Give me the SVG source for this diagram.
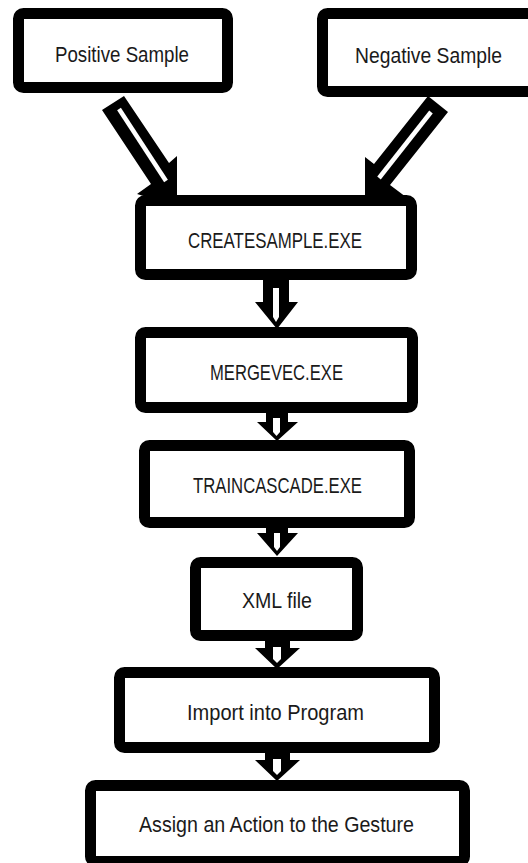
<svg xmlns="http://www.w3.org/2000/svg" width="528" height="863" viewBox="0 0 528 863">
<style>
.box{fill:#fff;stroke:#000;stroke-width:11;}
.lbl{font-family:"Liberation Sans",Arial,sans-serif;font-size:22px;fill:#1a1a1a;text-anchor:middle;}
.ah{fill:#000;}
.slit{fill:#fff;}
</style>
<rect width="528" height="863" fill="#fff"/>
<g id="connectors">
  <!-- Positive -> CREATESAMPLE -->
  <polygon class="ah" points="102,110 124,96 169,163 177,156 177,206 137,194 151,184"/>
  <line x1="119" y1="109" x2="166" y2="181" stroke="#fff" stroke-width="4.5"/>
  <!-- Negative -> CREATESAMPLE -->
  <polygon class="ah" points="448,112 428,96 374,164 365,157 365,206 406,197 390,185"/>
  <line x1="431" y1="112" x2="379" y2="178" stroke="#fff" stroke-width="4.5"/>
  <!-- CREATESAMPLE -> MERGEVEC -->
  <polygon class="ah" points="263,275 289,275 289,302 298,302 277,329 255,302 263,302"/>
  <polygon class="slit" points="273,288 279,288 279,317 276,322 273,317"/>
  <!-- MERGEVEC -> TRAINCASCADE -->
  <polygon class="ah" points="266,408 288,408 288,422 298,422 277,441 257,422 266,422"/>
  <polygon class="slit" points="273,418 280,418 280,432 276.5,436 273,432"/>
  <!-- TRAINCASCADE -> XML file -->
  <polygon class="ah" points="266,523 288,523 288,533 298,533 277,556 257,533 266,533"/>
  <polygon class="slit" points="274,533 280,533 280,547 277,551 274,547"/>
  <!-- XML file -> Import -->
  <polygon class="ah" points="265,636 290,636 290,648 300,648 277,669 255,648 265,648"/>
  <polygon class="slit" points="273,647 281,647 281,659 277,663 273,659"/>
  <!-- Import -> Assign -->
  <polygon class="ah" points="265,748 290,748 290,760 300,760 277,781 255,760 265,760"/>
  <polygon class="slit" points="273,759 281,759 281,771 277,775 273,771"/>
</g>
<g id="positive">
  <rect class="box" x="18.5" y="13.5" width="209" height="74" rx="5"/>
  <text class="lbl" x="122" y="62" textLength="134" lengthAdjust="spacingAndGlyphs">Positive Sample</text>
</g>
<g id="negative">
  <rect class="box" x="322.5" y="13.5" width="220" height="78" rx="5"/>
  <text class="lbl" x="428.5" y="63" textLength="147" lengthAdjust="spacingAndGlyphs">Negative Sample</text>
</g>
<g id="createsample">
  <rect class="box" x="140.5" y="200.5" width="271" height="74" rx="5"/>
  <text class="lbl" x="275" y="248" textLength="174" lengthAdjust="spacingAndGlyphs">CREATESAMPLE.EXE</text>
</g>
<g id="mergevec">
  <rect class="box" x="140.5" y="332.5" width="272" height="75" rx="5"/>
  <text class="lbl" x="276.5" y="380" textLength="133" lengthAdjust="spacingAndGlyphs">MERGEVEC.EXE</text>
</g>
<g id="traincascade">
  <rect class="box" x="144.5" y="445.5" width="265" height="77" rx="5"/>
  <text class="lbl" x="277.5" y="493" textLength="169" lengthAdjust="spacingAndGlyphs">TRAINCASCADE.EXE</text>
</g>
<g id="xmlfile">
  <rect class="box" x="195.5" y="562.5" width="162" height="73" rx="5"/>
  <text class="lbl" x="277" y="608" textLength="70" lengthAdjust="spacingAndGlyphs">XML file</text>
</g>
<g id="import">
  <rect class="box" x="119.5" y="672.5" width="315" height="75" rx="5"/>
  <text class="lbl" x="275.5" y="720" textLength="177" lengthAdjust="spacingAndGlyphs">Import into Program</text>
</g>
<g id="assign">
  <rect class="box" x="90.5" y="785.5" width="374" height="76" rx="5"/>
  <text class="lbl" x="276.5" y="832" textLength="275" lengthAdjust="spacingAndGlyphs">Assign an Action to the Gesture</text>
</g>
</svg>
